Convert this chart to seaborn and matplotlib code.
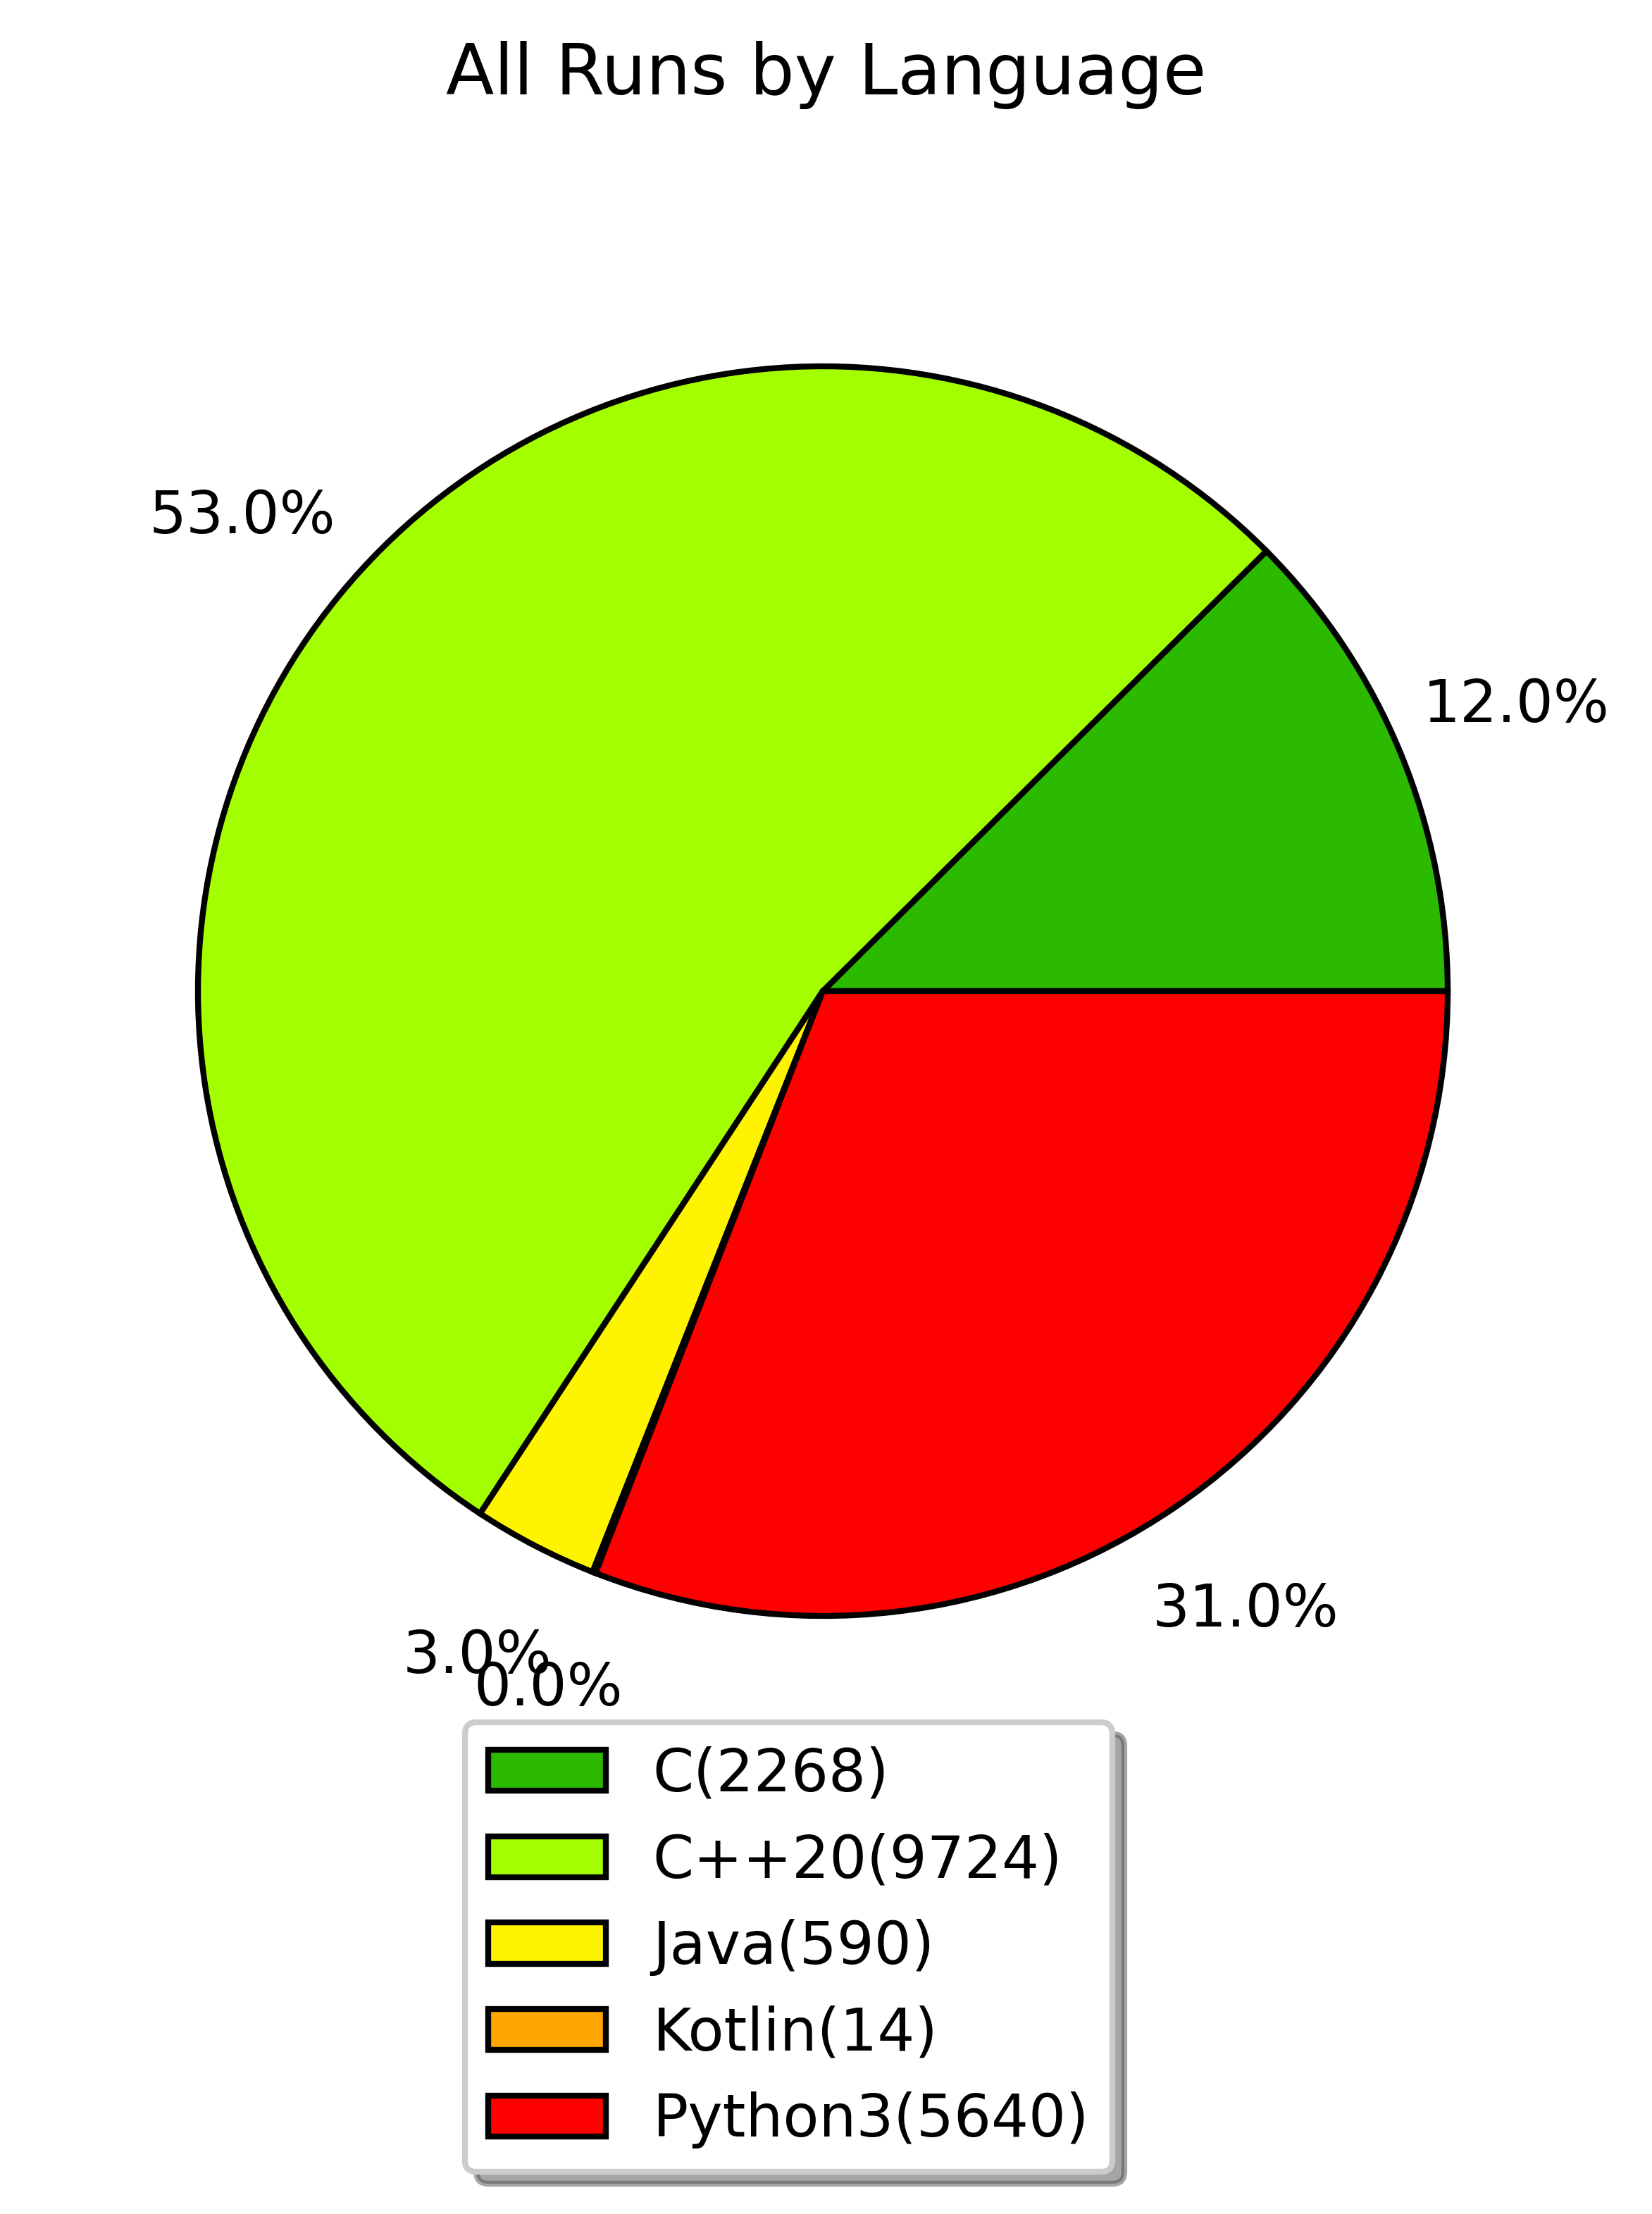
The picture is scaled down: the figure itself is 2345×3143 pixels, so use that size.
import matplotlib
matplotlib.use("Agg")
import matplotlib.pyplot as plt
import seaborn as sns

languages = ["C", "C++20", "Java", "Kotlin", "Python3"]
runs = [2268, 9724, 590, 14, 5640]
colors = ["#2cba00", "#a3ff00", "#fff400", "#ffa700", "#ff0000"]

sns.set_style("white")
plt.rcParams["font.family"] = ["DejaVu Sans"]
plt.rcParams["font.size"] = 10
plt.rcParams["text.color"] = "black"

W, H, DPI = 2345, 3143, 600
fig = plt.figure(figsize=(W / DPI, H / DPI), dpi=DPI)

# pie axes: center ~ (1168, 1407) px, radius ~887 px
r = 887
ax = fig.add_axes([(1168 - 1.25 * r) / W, (H - 1407 - 1.25 * r) / H,
                   2.5 * r / W, 2.5 * r / H])

wedges, texts, autotexts = ax.pie(
    runs,
    colors=colors,
    autopct=lambda p: f"{round(p):.1f}%",
    pctdistance=1.2,
    startangle=0,
    wedgeprops={"edgecolor": "black", "linewidth": 1.0},
    textprops={"fontsize": 10, "color": "black"},
)
ax.set_aspect("equal")

fig.text(0.5, 1 - 134 / H, "All Runs by Language", ha="center", va="baseline",
         fontsize=12, color="black")

labels = [f"{l}({n})" for l, n in zip(languages, runs)]
leg = ax.legend(wedges, labels, loc="upper center",
                bbox_to_anchor=(1119.5 / W, 1 - 2445 / H),
                bbox_transform=fig.transFigure, borderaxespad=0,
                shadow=True, frameon=True, fancybox=True, fontsize=10,
                framealpha=1.0)
leg.get_frame().set_edgecolor("0.8")
leg.get_frame().set_linewidth(1.0)
leg.get_frame().set_facecolor("white")
for t in leg.get_texts():
    t.set_color("black")

fig.savefig("out.png", dpi=DPI)
